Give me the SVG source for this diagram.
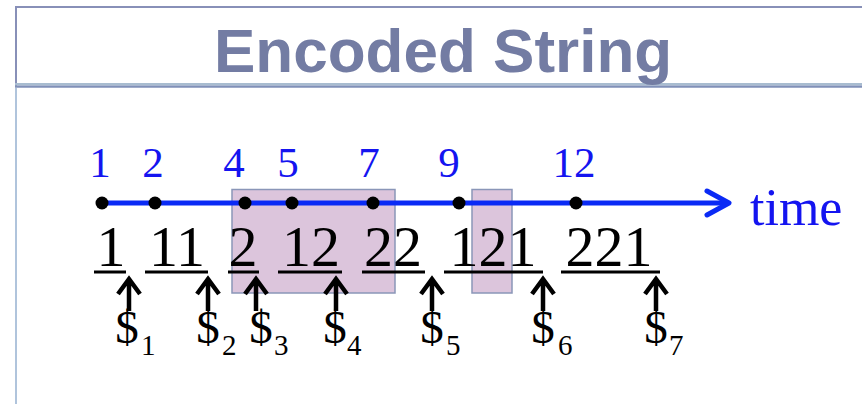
<svg xmlns="http://www.w3.org/2000/svg" width="862" height="404" viewBox="0 0 862 404">
<style>
.title{font-family:"Liberation Sans",Arial,sans-serif;font-weight:bold;font-size:62px;fill:#737ca3}
.tl{font-family:"Liberation Serif","Times New Roman",serif;font-size:43px;fill:#1414f0;text-anchor:middle}
.dg{font-family:"Liberation Serif","Times New Roman",serif;font-size:58px;fill:#000;text-anchor:middle}
.dl{font-family:"Liberation Serif","Times New Roman",serif;font-size:47px;fill:#000;text-anchor:middle}
.sub{font-family:"Liberation Serif","Times New Roman",serif;font-size:29px;fill:#000}
.box{fill:#dcc5dc;stroke:#8a96b8;stroke-width:1.5}
.ul{stroke:#000;stroke-width:3}
.up{stroke:#000;stroke-width:4.5;fill:none;stroke-linecap:butt;stroke-linejoin:miter}
.dot{fill:#000}
</style>
<rect width="862" height="404" fill="#fff"/>
<g id="frame">
<line x1="15" y1="7" x2="862" y2="7" stroke="#8890b8" stroke-width="2"/>
<line x1="16" y1="6" x2="16" y2="86" stroke="#8890b8" stroke-width="2"/>
<line x1="15" y1="84.2" x2="862" y2="84.2" stroke="#a8bcd0" stroke-width="2.5"/>
<line x1="15" y1="86.6" x2="862" y2="86.6" stroke="#8090b8" stroke-width="2.2"/>
<line x1="16" y1="88" x2="16" y2="404" stroke="#b0c4dc" stroke-width="2"/>
<text class="title" x="214" y="72">Encoded String</text>
</g>
<g id="highlights">
<rect class="box" x="232" y="189.5" width="163" height="103.5"/>
<rect class="box" x="472" y="189.5" width="40" height="103.5"/>
</g>
<g id="connectors">
<line x1="100" y1="203" x2="727" y2="203" stroke="#0a2af5" stroke-width="5"/>
<polyline points="707,191 729,203 707,215" fill="none" stroke="#0a2af5" stroke-width="5" stroke-linecap="round" stroke-linejoin="round"/>
<g id="underlines">
<line class="ul" x1="94" y1="272" x2="126" y2="272"/>
<line class="ul" x1="145" y1="272" x2="208" y2="272"/>
<line class="ul" x1="228" y1="272" x2="259" y2="272"/>
<line class="ul" x1="278" y1="272" x2="342" y2="272"/>
<line class="ul" x1="362" y1="272" x2="425" y2="272"/>
<line class="ul" x1="444" y1="272" x2="543" y2="272"/>
<line class="ul" x1="561" y1="272" x2="660" y2="272"/>
</g>
<g id="uparrows">
<path class="up" d="M129,280 V311 M118,294 L129,279 L140,294"/>
<path class="up" d="M208,280 V311 M197,294 L208,279 L219,294"/>
<path class="up" d="M256,280 V311 M245,294 L256,279 L267,294"/>
<path class="up" d="M336,280 V311 M325,294 L336,279 L347,294"/>
<path class="up" d="M432,280 V311 M421,294 L432,279 L443,294"/>
<path class="up" d="M543,280 V311 M532,294 L543,279 L554,294"/>
<path class="up" d="M656,280 V311 M645,294 L656,279 L667,294"/>
</g>
</g>
<g id="timeline-points">
<circle class="dot" cx="102" cy="203" r="6.5"/>
<circle class="dot" cx="155" cy="203" r="6.5"/>
<circle class="dot" cx="245" cy="203" r="6.5"/>
<circle class="dot" cx="292" cy="203" r="6.5"/>
<circle class="dot" cx="373" cy="203" r="6.5"/>
<circle class="dot" cx="459" cy="203" r="6.5"/>
<circle class="dot" cx="576" cy="203" r="6.5"/>
</g>
<g id="timeline-labels">
<text class="tl" x="100" y="177">1</text>
<text class="tl" x="153" y="177">2</text>
<text class="tl" x="234" y="177">4</text>
<text class="tl" x="288" y="177">5</text>
<text class="tl" x="369" y="177">7</text>
<text class="tl" x="449" y="177">9</text>
<text class="tl" x="574" y="177">12</text>
<text x="750" y="225" font-family="'Liberation Serif','Times New Roman',serif" font-size="52" fill="#1414f0">time</text>
</g>
<g id="string">
<text class="dg" x="111" y="266">1</text>
<text class="dg" x="177" y="266">11</text>
<text class="dg" x="243" y="266">2</text>
<text class="dg" x="311" y="266">12</text>
<text class="dg" x="393" y="266">22</text>
<text class="dg" x="493" y="266">121</text>
<text class="dg" x="609" y="266">221</text>
</g>
<g id="dollars">
<text class="dl" x="127" y="343">$</text><text class="sub" x="141" y="355">1</text>
<text class="dl" x="208" y="343">$</text><text class="sub" x="222" y="355">2</text>
<text class="dl" x="261" y="343">$</text><text class="sub" x="274" y="355">3</text>
<text class="dl" x="335" y="343">$</text><text class="sub" x="347" y="355">4</text>
<text class="dl" x="432" y="343">$</text><text class="sub" x="446" y="355">5</text>
<text class="dl" x="543" y="343">$</text><text class="sub" x="558" y="355">6</text>
<text class="dl" x="656" y="343">$</text><text class="sub" x="669" y="355">7</text>
</g>
</svg>
